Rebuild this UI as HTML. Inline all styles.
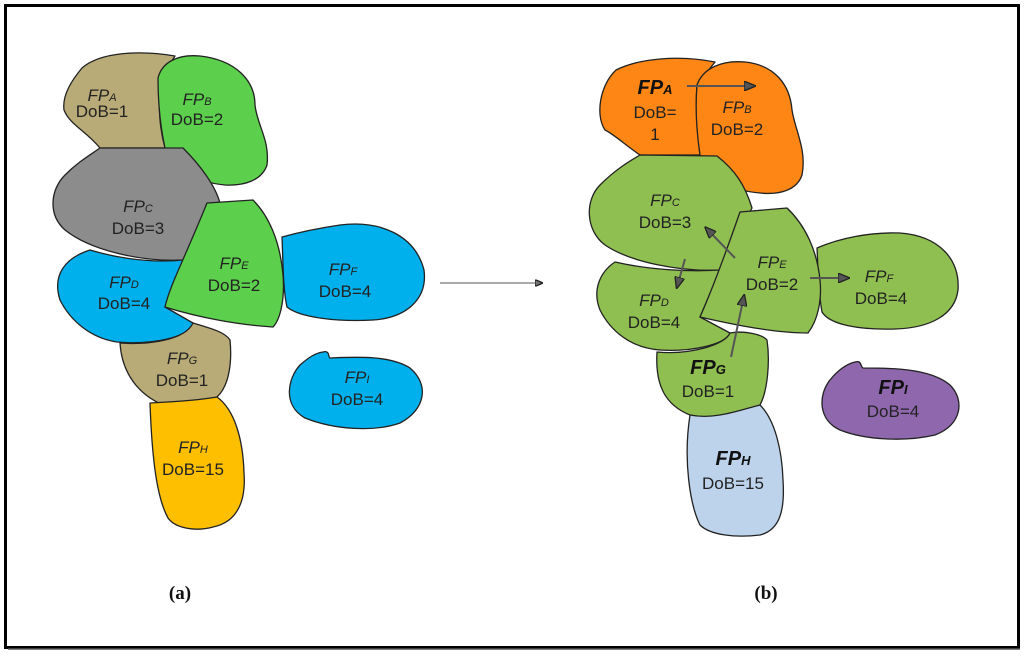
<!DOCTYPE html>
<html><head><meta charset="utf-8"><style>
html,body{margin:0;padding:0;background:#fff;}
svg{display:block;}
text{font-family:"Liberation Sans",sans-serif;font-size:17px;fill:#222;text-anchor:middle;}
.it{font-style:italic;}
.bd{font-weight:bold;font-style:italic;font-size:20px;fill:#111;}
.sub{font-size:11px;font-style:italic;}
.cap{font-family:"Liberation Serif",serif;font-weight:bold;font-size:19px;fill:#111;}
path{stroke:#222;stroke-width:1.3;stroke-linejoin:round;}
</style></head><body>
<svg width="1024" height="657" viewBox="0 0 1024 657">
<rect x="5.5" y="5.5" width="1013" height="642" fill="#fff" stroke="#000" stroke-width="3"/>
<line x1="8" y1="649" x2="1020" y2="649" stroke="#555" stroke-width="1.5"/>
<defs><marker id="ah" markerUnits="userSpaceOnUse" markerWidth="12" markerHeight="10" refX="10" refY="5" orient="auto"><path d="M0,0 L12,5 L0,10 z" fill="#555" stroke="none"/></marker>
<marker id="ah2" markerUnits="userSpaceOnUse" markerWidth="8" markerHeight="7" refX="7" refY="3.5" orient="auto"><path d="M0,0 L8,3.5 L0,7 z" fill="#777" stroke="none"/></marker></defs>

<!-- LEFT (a) -->
<path fill="#b8ab77" d="M82,68 C100,52 140,50 175,56 L160,80 C158,110 160,130 165,148 L100,148 C85,130 70,125 64,110 C62,95 72,80 82,68 Z"/>
<path fill="#5cd04c" d="M158,78 C162,62 178,54 200,56 C235,60 255,80 255,105 C257,125 270,140 267,165 C262,180 245,186 225,185 C195,182 172,170 165,148 C160,125 158,100 158,78 Z"/>
<path fill="#8c8c8c" d="M100,148 L183,148 C200,165 215,185 220,203 L183,260 C140,262 90,250 65,230 C48,215 50,190 65,175 C78,162 90,155 100,148 Z"/>
<path fill="#00b0ec" d="M90,250 C130,262 165,262 183,260 L165,307 L193,323 C190,338 150,345 117,342 C90,338 70,320 60,300 C52,275 65,258 90,250 Z"/>
<path fill="#00b0ec" d="M282,237 C300,232 320,228 340,225 C380,220 415,235 424,270 C428,300 405,318 373,320 C340,322 300,318 287,307 C283,290 283,260 282,237 Z"/>
<path fill="#b8ab77" d="M193,323 C210,328 225,332 230,340 C232,360 230,385 217,397 C195,405 175,408 163,405 C140,395 122,375 120,343 C150,345 185,340 193,323 Z"/>
<path fill="#5cd04c" d="M207,203 L253,200 C268,215 280,240 283,275 C285,300 280,320 273,327 C240,325 200,318 165,307 C170,285 183,262 207,203 Z"/>
<path fill="#fdbf00" d="M150,403 C170,402 200,400 217,397 C235,410 243,440 244,473 C246,500 238,522 213,527 C195,532 175,528 168,518 C157,498 152,460 150,403 Z"/>
<path fill="#00b0ec" d="M323,352 C330,350 328,357 330,358 C355,357 390,355 410,368 C430,385 425,410 400,423 C375,432 335,430 305,418 C282,405 288,378 300,365 C308,358 315,353 323,352 Z"/>

<text x="102" y="101" class="it">FP<tspan class="sub">A</tspan></text><text x="102" y="117">DoB=1</text>
<text x="197" y="105" class="it">FP<tspan class="sub">B</tspan></text><text x="197" y="125">DoB=2</text>
<text x="138" y="212" class="it">FP<tspan class="sub">C</tspan></text><text x="138" y="234">DoB=3</text>
<text x="124" y="288" class="it">FP<tspan class="sub">D</tspan></text><text x="124" y="309">DoB=4</text>
<text x="234" y="269" class="it">FP<tspan class="sub">E</tspan></text><text x="234" y="291">DoB=2</text>
<text x="343" y="275" class="it">FP<tspan class="sub">F</tspan></text><text x="345" y="297">DoB=4</text>
<text x="182" y="364" class="it">FP<tspan class="sub">G</tspan></text><text x="182" y="386">DoB=1</text>
<text x="193" y="453" class="it">FP<tspan class="sub">H</tspan></text><text x="193" y="475">DoB=15</text>
<text x="357" y="383" class="it">FP<tspan class="sub">I</tspan></text><text x="357" y="405">DoB=4</text>

<line x1="440" y1="283" x2="542" y2="283" stroke="#777" stroke-width="1.3" marker-end="url(#ah2)"/>

<!-- RIGHT (b) -->
<path fill="#fd8615" d="M616,70 C640,58 680,55 715,62 L697,85 C695,110 698,135 700,155 L640,155 C625,145 615,135 605,130 C595,115 600,85 616,70 Z"/>
<path fill="#fd8615" d="M697,85 C703,68 722,60 745,62 C775,65 790,85 792,110 C795,130 807,150 802,175 C797,190 780,195 760,193 C725,190 705,175 700,155 C697,135 695,110 697,85 Z"/>
<path fill="#8fbf50" d="M640,155 L717,156 C735,170 745,185 752,208 L720,270 C680,272 630,262 605,245 C585,230 585,200 600,185 C615,170 628,162 640,155 Z"/>
<path fill="#8fbf50" d="M720,270 L700,317 L730,333 C725,345 690,352 660,350 C630,348 610,330 600,310 C592,290 600,272 615,262 C650,270 690,272 720,270 Z"/>
<path fill="#8fbf50" d="M817,248 C840,238 870,232 900,233 C940,236 960,260 958,290 C955,315 930,328 895,329 C860,330 830,325 822,312 C818,290 818,265 817,248 Z"/>
<path fill="#8fbf50" d="M730,333 C745,330 763,335 767,340 C770,360 768,390 760,405 C740,415 715,420 690,415 C665,405 655,385 657,352 C690,355 725,345 730,333 Z"/>
<path fill="#8fbf50" d="M740,212 L787,208 C805,225 817,250 820,280 C822,300 818,320 808,333 C775,333 735,325 700,317 C712,290 725,255 740,212 Z"/>
<path fill="#bdd3ec" d="M690,415 C715,420 740,410 760,405 C775,420 782,450 783,480 C785,510 780,530 760,535 C735,538 710,535 700,525 C690,505 683,460 690,415 Z"/>
<path fill="#8e67ad" d="M855,362 C862,360 860,366 863,368 C890,368 930,368 950,385 C965,400 962,425 935,435 C905,442 865,440 840,430 C818,420 818,395 830,380 C838,370 847,364 855,362 Z"/>

<text x="655" y="94" class="bd">FP<tspan style="font-size:13px">A</tspan></text>
<text x="655" y="118">DoB=</text><text x="655" y="140">1</text>
<text x="737" y="113" class="it">FP<tspan class="sub">B</tspan></text><text x="737" y="135">DoB=2</text>
<text x="665" y="206" class="it">FP<tspan class="sub">C</tspan></text><text x="665" y="228">DoB=3</text>
<text x="654" y="306" class="it">FP<tspan class="sub">D</tspan></text><text x="654" y="328">DoB=4</text>
<text x="772" y="268" class="it">FP<tspan class="sub">E</tspan></text><text x="772" y="290">DoB=2</text>
<text x="879" y="282" class="it">FP<tspan class="sub">F</tspan></text><text x="881" y="304">DoB=4</text>
<text x="708" y="374" class="bd">FP<tspan style="font-size:13px">G</tspan></text><text x="708" y="397">DoB=1</text>
<text x="733" y="465" class="bd">FP<tspan style="font-size:13px">H</tspan></text><text x="733" y="489">DoB=15</text>
<text x="893" y="394" class="bd">FP<tspan style="font-size:13px">I</tspan></text><text x="893" y="417">DoB=4</text>

<g stroke="#555" stroke-width="2" fill="none">
<line x1="687" y1="86" x2="754" y2="86" marker-end="url(#ah)"/>
<line x1="735" y1="258" x2="706" y2="228" marker-end="url(#ah)"/>
<line x1="685" y1="259" x2="677" y2="287" marker-end="url(#ah)"/>
<line x1="810" y1="278" x2="848" y2="278" marker-end="url(#ah)"/>
<line x1="731" y1="357" x2="744" y2="296" marker-end="url(#ah)"/>
</g>

<text x="180" y="599" class="cap">(a)</text>
<text x="766" y="599" class="cap">(b)</text>
</svg>
</body></html>
